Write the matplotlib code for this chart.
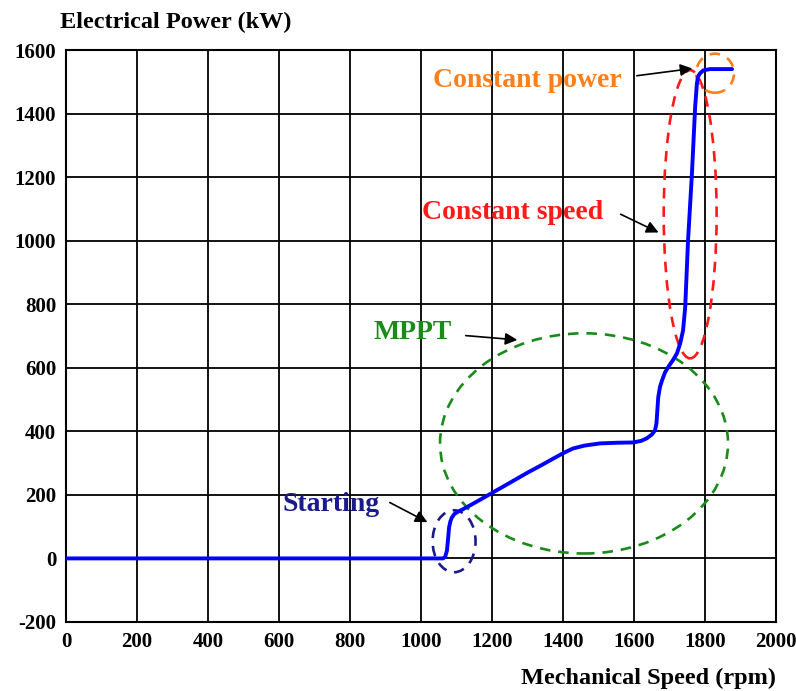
import matplotlib
matplotlib.use("Agg")
import matplotlib.pyplot as plt
from matplotlib.patches import Ellipse
import numpy as np

plt.rcParams['font.family'] = ['Liberation Serif', 'DejaVu Serif']
plt.rcParams['font.weight'] = 'bold'
plt.rcParams['axes.unicode_minus'] = False

# Donnees
speed = [0, 1062, 1068, 1073, 1076, 1079, 1083, 1087, 1094, 1101, 1120, 1138,
         1170, 1203, 1250, 1300, 1340, 1372, 1400, 1428, 1460, 1504, 1550,
         1597, 1620, 1636, 1650, 1659, 1663, 1665, 1668, 1673, 1679, 1687,
         1696, 1710, 1721, 1730, 1738, 1744, 1752, 1763, 1772, 1777, 1781,
         1786, 1795, 1814, 1876]
power = [0, 0, 5, 25, 60, 98, 118, 129, 140, 145, 156, 167,
         187, 208, 238, 270, 294, 314, 331, 346, 355, 362, 364,
         365, 370, 378, 390, 403, 425, 457, 507, 540, 561, 585,
         602, 625, 646, 677, 718, 791, 1001, 1212, 1421, 1496, 1518,
         1527, 1536, 1540, 1540]

# zones: (centre x, centre y, largeur, hauteur, couleur)
zones = [
    (1093, 54, 121, 195, '#1a1a8c'),
    (1459, 362, 811, 693, '#1a8a1a'),
    (1758, 1083, 149, 907, '#ff1a1a'),
    (1828, 1527, 107, 123, '#ff7f1a'),
]

# labels: (texte, x, y, fleche depart, fleche arrivee, couleur)
labels = [
    ('Starting', 746, 170, (905, 180), (1025, 110), '#1a1a8c'),
    ('MPPT', 977, 712, (1118, 702), (1279, 687), '#1a8a1a'),
    ('Constant speed', 1259, 1090, (1555, 1087), (1676, 1022), '#ff1a1a'),
    ('Constant power', 1299, 1505, (1600, 1518), (1772, 1543), '#ff7f1a'),
]

fig = plt.figure(figsize=(7.96, 6.91), dpi=100)
ax = fig.add_axes([0.0829, 0.0999, 0.8921, 0.8277])

ax.plot(speed, power, color='blue', linewidth=2.8, zorder=5,
        solid_joinstyle='round', solid_capstyle='round')

for cx, cy, w, h, c in zones:
    e = Ellipse((cx, cy), w, h, fill=False, edgecolor=c, linestyle=(0, (4, 3)),
                linewidth=1.9, zorder=4)
    ax.add_patch(e)

for txt, tx, ty, a0, a1, c in labels:
    ax.text(tx, ty, txt, color=c, fontsize=20, fontweight='bold',
            ha='center', va='center', zorder=6)
    ax.annotate('', xy=a1, xytext=a0,
                arrowprops=dict(arrowstyle='-|>', color='black', lw=1.2,
                                mutation_scale=18), zorder=6)

ax.set_xlim(0, 2000)
ax.set_ylim(-200, 1600)
ax.set_xticks(np.arange(0, 2001, 200))
ax.set_yticks(np.arange(-200, 1601, 200))
ax.grid(True, color='black', linewidth=1.3)
ax.tick_params(length=0, labelsize=15, pad=7)
for lab in ax.get_xticklabels() + ax.get_yticklabels():
    lab.set_fontweight('bold')
for s in ax.spines.values():
    s.set_linewidth(1.5)

fig.text(0.075, 0.968, 'Electrical Power (kW)', fontsize=17.5, fontweight='bold',
         ha='left', va='center')
fig.text(0.975, 0.018, 'Mechanical Speed (rpm)', fontsize=17.5, fontweight='bold',
         ha='right', va='center')

fig.savefig('out.png', dpi=100)
